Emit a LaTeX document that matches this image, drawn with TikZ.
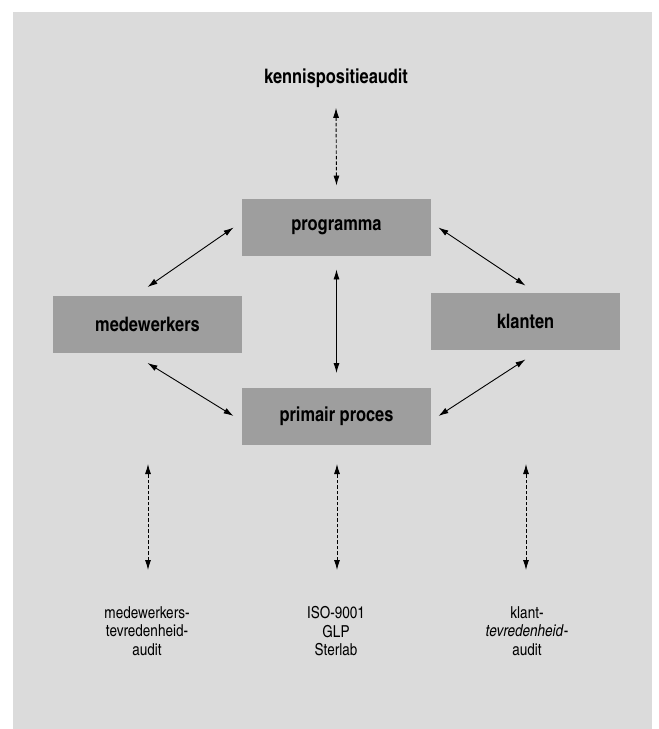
\documentclass[tikz,border=0pt]{standalone}
\usepackage{fontspec}
\setmainfont{TeX Gyre Heros Cn}
\usetikzlibrary{arrows.meta}

\definecolor{paneel}{gray}{0.86}
\definecolor{vlak}{gray}{0.62}
\tikzset{every path/.style={line width=.9pt},
  blok/.style={fill=vlak, minimum width=189pt, minimum height=57pt, inner sep=0pt, font=\bfseries\fontsize{20}{20}\selectfont},
  pijl/.style={{Latex[length=10pt,width=6pt]}-{Latex[length=10pt,width=6pt]}},
  stippel/.style={pijl, dash pattern=on 3.5pt off 2pt},
  bron/.style={align=center, inner sep=0pt, font=\fontsize{16.5}{18.5}\selectfont}}

\begin{document}
\begin{tikzpicture}[x=1pt,y=1pt]

\useasboundingbox (0,0) rectangle (659,-729);
\fill[paneel] (13,-12) rectangle (652,-729);

\node[blok] (prog) at (336.5,-227.5) {programma};
\node[blok] (mede) at (147.5,-324) {medewerkers};
\node[blok] (klant) at (525.5,-321.5) {klanten};
\node[blok] (prim) at (336.5,-416) {primair proces};

\node[font=\bfseries\fontsize{20}{20}\selectfont, inner sep=0pt] (kennis) at (336,-78) {kennispositieaudit};
\node[bron, anchor=north] (tevmed) at (147,-606) {medewerkers-\\tevredenheid-\\audit};
\node[bron, anchor=north] (iso) at (336,-606) {ISO-9001\\GLP\\Sterlab};
\node[bron, anchor=north] (tevkl) at (527,-606) {klant-\\\textit{tevredenheid}-\\audit};

\draw[pijl] ([yshift=8pt]mede.north) -- ([xshift=-8pt]prog.west);
\draw[pijl] ([yshift=-10pt]mede.south) -- ([xshift=-8pt]prim.west);
\draw[pijl] ([yshift=-13pt]prog.south) -- ([yshift=14pt]prim.north);
\draw[pijl] ([xshift=7pt]prog.east) -- ([yshift=7pt]klant.north);
\draw[pijl] ([yshift=-9pt]klant.south) -- ([xshift=7pt]prim.east);

\draw[stippel] ([yshift=-20pt]kennis.south) -- ([yshift=13pt]prog.north);
\draw[stippel] ([xshift=1pt,yshift=36pt]tevmed.north) -- ++(0,106);
\draw[stippel] ([xshift=1pt,yshift=36pt]iso.north) -- ++(0,106);
\draw[stippel] ([xshift=-1pt,yshift=36pt]tevkl.north) -- ++(0,106);
\end{tikzpicture}
\end{document}
